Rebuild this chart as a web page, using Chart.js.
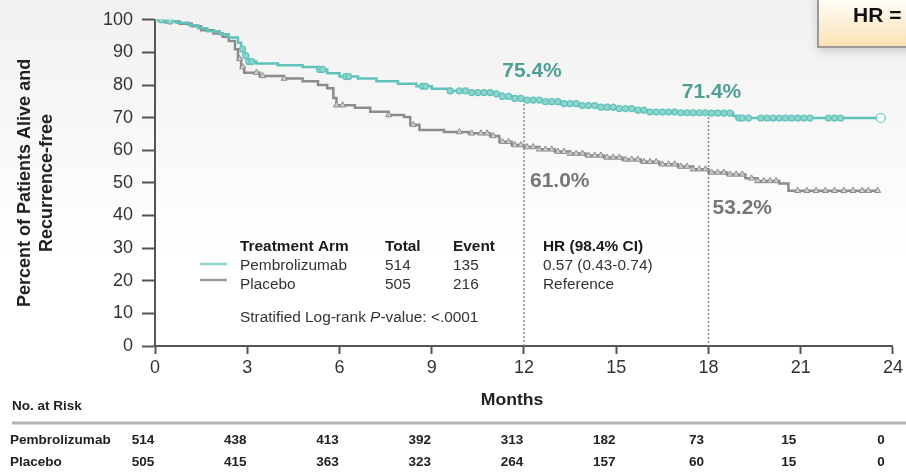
<!DOCTYPE html>
<html lang="en">
<head>
<meta charset="UTF-8">
<title>Recurrence-free Survival</title>
<script src="https://cdn.jsdelivr.net/npm/chart.js"></script>
<style>
  html, body { margin: 0; padding: 0; background: #fff; }
  .chart-box { position: relative; width: 906px; height: 472px; }
</style>
</head>
<body>
<div class="chart-box"><canvas id="kmChart"></canvas></div>

<script>
// Kaplan-Meier steps (months, % alive and recurrence-free)
const pembroMonths = [0, 0.3, 0.7, 1.1, 1.4, 1.7, 2.1, 2.4, 2.7, 2.8, 2.9, 3.0, 3.3, 4.0, 4.8, 5.3, 5.6, 6.0, 6.6, 7.2, 7.9, 8.5, 9.0, 9.6, 10.3, 11.0, 11.3, 11.7, 12.0, 12.6, 13.2, 13.8, 14.4, 15.0, 15.6, 16.1, 17.0, 18.0, 18.8, 18.9, 23.6];
const pembroPct    = [100, 99.6, 99.1, 98.3, 97.4, 96.5, 95.6, 94.6, 93.0, 91.0, 89.0, 87.2, 86.6, 86.1, 85.5, 84.8, 83.6, 82.6, 82.0, 81.2, 80.4, 79.6, 78.9, 78.2, 77.7, 77.3, 76.5, 75.9, 75.4, 74.9, 74.3, 73.7, 73.2, 72.8, 72.3, 71.7, 71.5, 71.4, 70.6, 69.9, 69.9];
const placeboMonths = [0, 0.3, 0.8, 1.2, 1.5, 1.9, 2.2, 2.4, 2.6, 2.7, 2.8, 2.9, 3.4, 4.2, 4.8, 5.3, 5.6, 5.8, 5.9, 6.5, 7.0, 7.6, 8.1, 8.3, 8.6, 9.4, 10.2, 10.9, 11.2, 11.6, 12.0, 12.5, 13.0, 13.5, 14.0, 14.6, 15.2, 15.8, 16.4, 17.0, 17.5, 18.0, 18.6, 19.2, 19.6, 20.3, 20.6, 23.5];
const placeboPct    = [100, 99.5, 98.8, 98.0, 96.8, 95.8, 94.8, 93.5, 91.0, 88.0, 85.5, 83.8, 82.8, 82.0, 81.2, 80.0, 79.0, 76.0, 73.8, 73.0, 71.8, 70.8, 70.2, 67.8, 66.2, 65.6, 65.2, 64.4, 62.6, 61.6, 61.0, 60.3, 59.6, 59.0, 58.4, 57.8, 57.2, 56.5, 55.7, 55.0, 54.2, 53.2, 52.6, 51.4, 50.6, 49.8, 47.6, 47.6];

// censoring times (tick marks on the curves)
const pembroCensored = [0.2, 0.5, 2.85, 2.95, 3.05, 3.15, 5.35, 5.45, 6.2, 6.3, 8.7, 8.8, 9.6, 9.9, 10.1, 10.3, 10.5, 10.7, 10.9, 11.1, 11.3, 11.5, 11.7, 11.9, 12.1, 12.3, 12.5, 12.7, 12.9, 13.1, 13.3, 13.5, 13.7, 13.9, 14.1, 14.3, 14.5, 14.7, 14.9, 15.1, 15.3, 15.5, 15.7, 15.9, 16.1, 16.3, 16.5, 16.7, 16.9, 17.1, 17.3, 17.5, 17.7, 17.9, 18.1, 18.3, 18.5, 18.7, 19.0, 19.1, 19.3, 19.7, 19.9, 20.1, 20.3, 20.5, 20.7, 20.9, 21.1, 21.3, 21.9, 22.1, 22.3, 23.6];
const placeboCensored = [0.2, 0.4, 2.75, 2.85, 3.3, 3.5, 4.2, 5.9, 6.1, 7.6, 8.4, 9.9, 10.3, 10.6, 10.8, 11.0, 11.3, 11.5, 11.7, 11.9, 12.1, 12.3, 12.5, 12.7, 12.9, 13.1, 13.3, 13.5, 13.7, 13.9, 14.1, 14.3, 14.5, 14.7, 14.9, 15.1, 15.3, 15.5, 15.7, 15.9, 16.1, 16.3, 16.5, 16.7, 16.9, 17.1, 17.3, 17.5, 17.7, 17.9, 18.1, 18.3, 18.5, 18.7, 18.9, 19.1, 19.4, 19.6, 19.8, 20.0, 20.2, 20.9, 21.2, 21.5, 21.8, 22.1, 22.4, 22.7, 23.0, 23.2, 23.5];

// landmark estimates
const landmarkMonths = [12, 18];
const pembroLandmark = [75.4, 71.4];
const placeboLandmark = [61.0, 53.2];

// number at risk
const riskMonths = [0, 3, 6, 9, 12, 15, 18, 21, 24];
const pembroAtRisk = [514, 438, 413, 392, 313, 182, 73, 15, 0];
const placeboAtRisk = [505, 415, 363, 323, 264, 157, 60, 15, 0];

const TEAL = '#5fc3bb';
const TEAL_TEXT = '#4f9f97';
const GREY = '#8c8c8c';
const GREY_TEXT = '#777777';

function survAt(times, pct, t) {
  let v = pct[0];
  for (let i = 0; i < times.length; i++) {
    if (times[i] <= t) v = pct[i]; else break;
  }
  return v;
}

function toPoints(xs, ys) {
  return xs.map((x, i) => ({ x: x, y: ys[i] }));
}

// draws text slightly stretched horizontally like the source figure
function txt(ctx, s, x, y, font, color, align, sx) {
  sx = sx || 1.1;
  ctx.save();
  ctx.font = font;
  ctx.fillStyle = color;
  ctx.textBaseline = 'middle';
  ctx.textAlign = 'left';
  const w = ctx.measureText(s).width * sx;
  let left = x;
  if (align === 'center') left = x - w / 2;
  else if (align === 'right') left = x - w;
  ctx.translate(left, y);
  ctx.scale(sx, 1);
  ctx.fillText(s, 0, 0);
  ctx.restore();
  return w;
}

const FONT = '"Liberation Sans", Arial, sans-serif';

const decorPlugin = {
  id: 'decor',
  beforeDraw(chart) {
    const ctx = chart.ctx;
    const g = ctx.createLinearGradient(0, 0, 0, 260);
    g.addColorStop(0, '#f1f1f1');
    g.addColorStop(1, '#ffffff');
    ctx.save();
    ctx.fillStyle = g;
    ctx.fillRect(0, 0, chart.width, chart.height);
    ctx.restore();
  },
  beforeDatasetsDraw(chart) {
    const ctx = chart.ctx;
    const xs = chart.scales.x, ys = chart.scales.y;
    ctx.save();
    ctx.strokeStyle = '#8a8290';
    ctx.lineWidth = 1.5;
    ctx.setLineDash([2, 2]);
    landmarkMonths.forEach((m, i) => {
      const px = xs.getPixelForValue(m);
      ctx.beginPath();
      ctx.moveTo(px, ys.getPixelForValue(pembroLandmark[i]));
      ctx.lineTo(px, ys.getPixelForValue(0));
      ctx.stroke();
    });
    ctx.restore();
  },
  afterDraw(chart) {
    const ctx = chart.ctx;
    const xs = chart.scales.x, ys = chart.scales.y;

    // landmark labels
    const pf = 'bold 20px ' + FONT;
    txt(ctx, pembroLandmark[0].toFixed(1) + '%', xs.getPixelForValue(landmarkMonths[0]) + 8, ys.getPixelForValue(84.3), pf, TEAL_TEXT, 'center', 1.05);
    txt(ctx, pembroLandmark[1].toFixed(1) + '%', xs.getPixelForValue(landmarkMonths[1]) + 3, ys.getPixelForValue(77.6), pf, TEAL_TEXT, 'center', 1.05);
    txt(ctx, placeboLandmark[0].toFixed(1) + '%', xs.getPixelForValue(landmarkMonths[0]) + 6, ys.getPixelForValue(50.5), pf, GREY_TEXT, 'left', 1.05);
    txt(ctx, placeboLandmark[1].toFixed(1) + '%', xs.getPixelForValue(landmarkMonths[1]) + 4, ys.getPixelForValue(42.3), pf, GREY_TEXT, 'left', 1.05);

    // legend table
    const hb = 'bold 14px ' + FONT, hr = '14px ' + FONT;
    const c0 = 240, c1 = 385, c2 = 453, c3 = 543;
    txt(ctx, 'Treatment Arm', c0, 247, hb, '#1a1a1a');
    txt(ctx, 'Total', c1, 247, hb, '#1a1a1a');
    txt(ctx, 'Event', c2, 247, hb, '#1a1a1a');
    txt(ctx, 'HR (98.4% CI)', c3, 247, hb, '#1a1a1a');
    const rows = [
      ['Pembrolizumab', '514', '135', '0.57 (0.43-0.74)', '#8fd6cf', 264],
      ['Placebo', '505', '216', 'Reference', '#9c9a9c', 280]
    ];
    rows.forEach((r, i) => {
      const y = 266 + i * 19;
      txt(ctx, r[0], c0, y, hr, '#333');
      txt(ctx, r[1], c1, y, hr, '#333');
      txt(ctx, r[2], c2, y, hr, '#333');
      txt(ctx, r[3], c3, y, hr, '#333');
      ctx.save();
      ctx.strokeStyle = r[4];
      ctx.lineWidth = 2.5;
      ctx.beginPath();
      ctx.moveTo(200, r[5]);
      ctx.lineTo(227, r[5]);
      ctx.stroke();
      ctx.restore();
    });
    let sx0 = c0;
    sx0 += txt(ctx, 'Stratified Log-rank ', sx0, 318, hr, '#333');
    sx0 += txt(ctx, 'P', sx0, 318, 'italic 14px ' + FONT, '#333');
    txt(ctx, '-value: <.0001', sx0, 318, hr, '#333');

    // months title
    txt(ctx, 'Months', 512, 401, 'bold 16px ' + FONT, '#222', 'center');

    // number at risk table
    const rb = 'bold 13px ' + FONT;
    txt(ctx, 'No. at Risk', 12, 406, rb, '#222', 'left', 1.04);
    ctx.save();
    ctx.strokeStyle = '#b3b3b3';
    ctx.lineWidth = 3;
    ctx.beginPath();
    ctx.moveTo(12, 423);
    ctx.lineTo(chart.width, 423);
    ctx.stroke();
    ctx.restore();
    txt(ctx, 'Pembrolizumab', 10, 440, rb, '#222', 'left', 1.04);
    txt(ctx, 'Placebo', 10, 462, rb, '#222', 'left', 1.04);
    riskMonths.forEach((m, i) => {
      const px = xs.getPixelForValue(m) - 12;
      txt(ctx, String(pembroAtRisk[i]), px, 440, rb, '#222', 'center', 1.04);
      txt(ctx, String(placeboAtRisk[i]), px, 462, rb, '#222', 'center', 1.04);
    });

    // HR callout box (cut off at the right edge)
    ctx.save();
    ctx.shadowColor = 'rgba(0,0,0,0.18)';
    ctx.shadowBlur = 10;
    ctx.shadowOffsetY = 4;
    const bg = ctx.createLinearGradient(0, 0, 0, 47);
    bg.addColorStop(0, '#fffdf8');
    bg.addColorStop(1, '#fbe1b1');
    ctx.fillStyle = bg;
    ctx.fillRect(818, -6, 100, 53);
    ctx.restore();
    ctx.save();
    ctx.strokeStyle = '#9a9a9a';
    ctx.lineWidth = 2;
    ctx.strokeRect(818, -6, 100, 53);
    ctx.restore();
    txt(ctx, 'HR =', 853, 16, 'bold 20px ' + FONT, '#111', 'left', 1.05);
  }
};

const ctx = document.getElementById('kmChart').getContext('2d');

new Chart(ctx, {
  type: 'line',
  data: {
    datasets: [
      {
        label: 'Pembrolizumab censored',
        type: 'scatter',
        data: pembroCensored.map(t => ({ x: t, y: survAt(pembroMonths, pembroPct, t) })),
        pointStyle: 'circle',
        pointRadius: c => c.dataIndex === pembroCensored.length - 1 ? 4.5 : 3,
        pointBackgroundColor: c => c.dataIndex === pembroCensored.length - 1 ? '#ffffff' : '#8ed5ce',
        pointBorderColor: TEAL,
        pointBorderWidth: 1.2
      },
      {
        label: 'Pembrolizumab',
        data: toPoints(pembroMonths, pembroPct),
        stepped: true,
        borderColor: TEAL,
        borderWidth: 2.5,
        pointRadius: 0,
        fill: false
      },
      {
        label: 'Placebo censored',
        type: 'scatter',
        data: placeboCensored.map(t => ({ x: t, y: survAt(placeboMonths, placeboPct, t) })),
        pointStyle: 'triangle',
        pointRadius: 3.5,
        pointBackgroundColor: '#cfcfcf',
        pointBorderColor: GREY,
        pointBorderWidth: 1
      },
      {
        label: 'Placebo',
        data: toPoints(placeboMonths, placeboPct),
        stepped: true,
        borderColor: GREY,
        borderWidth: 2.5,
        pointRadius: 0,
        fill: false
      }
    ]
  },
  options: {
    responsive: true,
    maintainAspectRatio: false,
    animation: false,
    layout: { padding: { left: 0, right: 13, top: 16, bottom: 0 } },
    plugins: {
      legend: { display: false },
      tooltip: { enabled: false }
    },
    scales: {
      x: {
        type: 'linear',
        min: 0,
        max: 24,
        afterFit: s => { s.height = 126; },
        ticks: {
          stepSize: 3,
          padding: 3,
          color: '#333',
          font: { family: FONT, size: 18 }
        },
        grid: { drawOnChartArea: false, drawTicks: true, tickLength: 8, tickColor: '#555', tickWidth: 2 },
        border: { display: true, color: '#555', width: 2 }
      },
      y: {
        min: 0,
        max: 100,
        afterFit: s => { s.width = 155; },
        ticks: {
          stepSize: 10,
          padding: 9,
          color: '#333',
          font: { family: FONT, size: 18 }
        },
        grid: { drawOnChartArea: false, drawTicks: true, tickLength: 13, tickColor: '#555', tickWidth: 2 },
        border: { display: true, color: '#555', width: 2 },
        title: {
          display: true,
          text: ['Percent of Patients Alive and', 'Recurrence-free'],
          color: '#222',
          font: { family: FONT, size: 18, weight: 'bold', lineHeight: 1.17 },
          padding: { top: 15, bottom: 0 }
        }
      }
    }
  },
  plugins: [decorPlugin]
});
</script>
</body>
</html>
